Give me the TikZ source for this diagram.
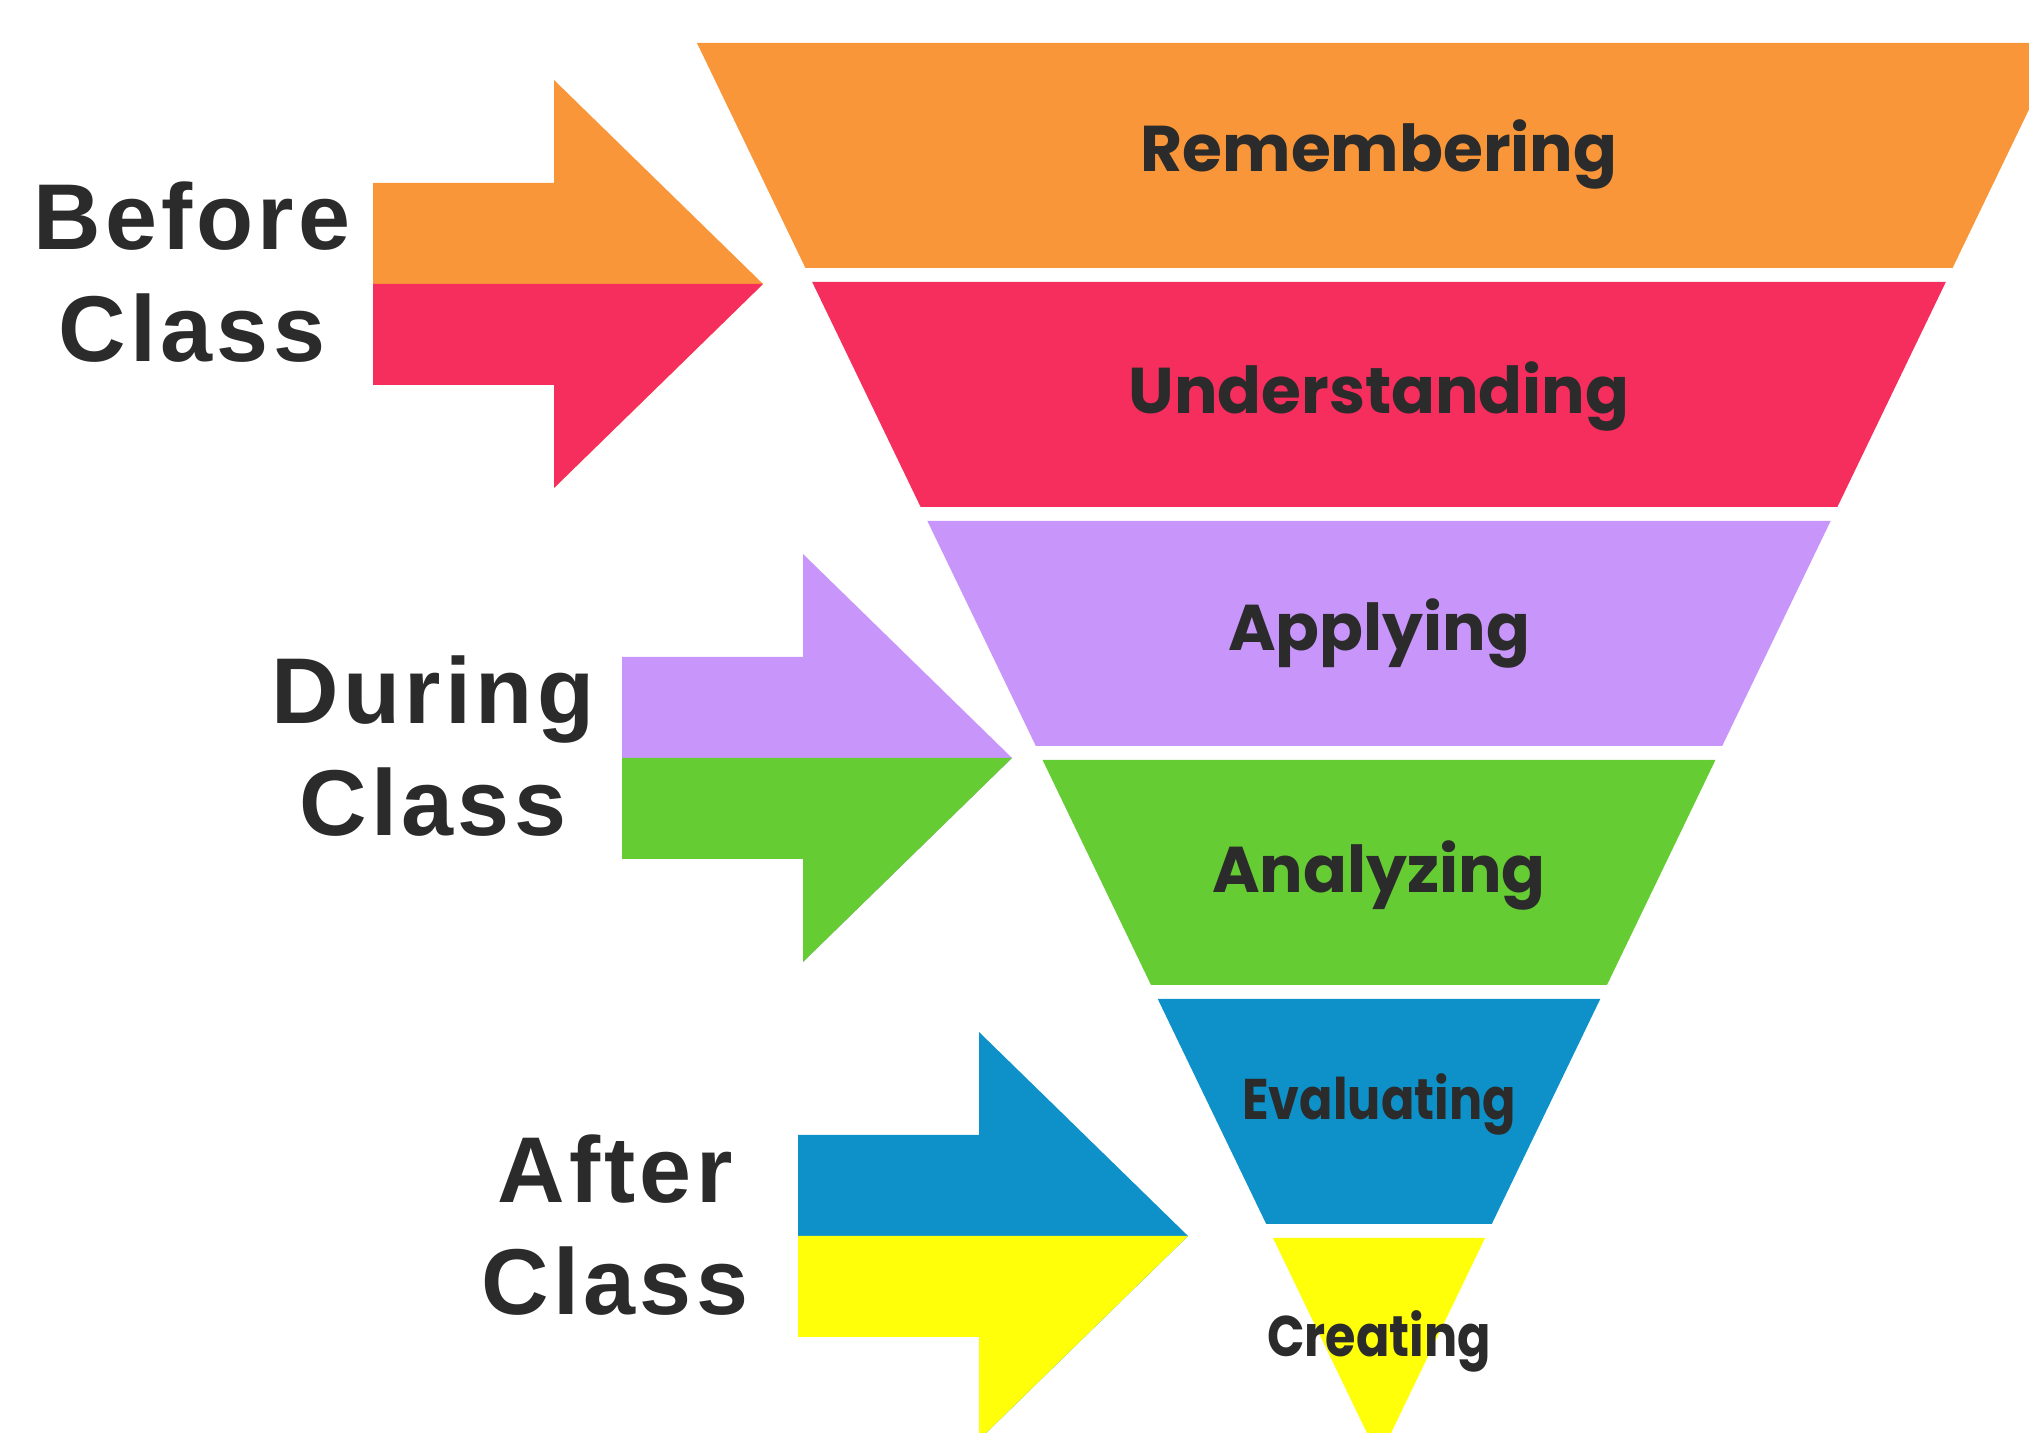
\documentclass[tikz,border=0pt]{standalone}
\usepackage{fontspec}
\newfontfamily\sidefont[LetterSpace=4.5]{Liberation Sans}
\newfontfamily\stepfont{Poppins}
\definecolor{remcol}{HTML}{F9963A}
\definecolor{undcol}{HTML}{F62E5E}
\definecolor{appcol}{HTML}{C896FA}
\definecolor{anacol}{HTML}{66CC33}
\definecolor{evacol}{HTML}{0D91C8}
\definecolor{crecol}{HTML}{FFFF0A}
\definecolor{inkcol}{HTML}{2B2B2B}
\newcommand{\phasearrow}[4]{%
  \fill[#3] (#1-3.90,#2-1.01) -- ++(0,2.02) -- ++(1.81,0) -- ++(0,1.03) -- (#1,#2) -- (#1-2.09,#2-2.04) -- ++(0,1.03) -- cycle;
  \fill[#4] (#1-3.90,#2) -- ++(0,-1.01) -- ++(1.81,0) -- ++(0,-1.03) -- (#1,#2) -- cycle;}
\tikzset{sidelabel/.style={align=center,text=inkcol,font=\sidefont\bfseries\fontsize{26.6}{32}\selectfont},
         stagelabel/.style={anchor=base,text=inkcol,inner sep=0pt}}
\begin{document}
\begin{tikzpicture}[x=1cm,y=1cm]
\useasboundingbox (0,0) rectangle (20.29,14.33);
\fill[white] (0,0) rectangle (20.29,14.33);
\clip (0,0) rectangle (20.29,14.33);
\foreach \col/\txt/\off/\fs/\sx [count=\i from 0] in {remcol/Remembering/1.29/18.4/1,undcol/Understanding/1.32/18.4/1,appcol/Applying/1.30/18.4/1,anacol/Analyzing/1.33/18.4/1,evacol/Evaluating/1.21/16.3/0.86,crecol/Creating/1.19/16.3/0.86}{
  \pgfmathsetmacro{\yt}{13.90-2.39*\i}
  \pgfmathsetmacro{\yb}{max(\yt-2.25,-0.25)}
  \pgfmathsetmacro{\wt}{0.482*(\yt+0.25)}
  \pgfmathsetmacro{\wb}{0.482*(\yb+0.25)}
  \fill[\col] (13.79-\wt,\yt) -- (13.79+\wt,\yt) -- (13.79+\wb,\yb) -- (13.79-\wb,\yb) -- cycle;
  \node[stagelabel,font=\stepfont\bfseries\fontsize{\fs}{\fs}\selectfont] (step\i) at (13.79,\yt-\off) {\scalebox{\sx}[1]{\txt}};
}
\phasearrow{7.63}{11.49}{remcol}{undcol}
\phasearrow{10.12}{6.75}{appcol}{anacol}
\phasearrow{11.88}{1.97}{evacol}{crecol}
\node[sidelabel] (before) at (1.92,11.61) {Before\\Class};
\node[sidelabel] (during) at (4.33,6.87) {During\\Class};
\node[sidelabel] (after) at (6.15,2.08) {After\\Class};
\end{tikzpicture}
\end{document}
